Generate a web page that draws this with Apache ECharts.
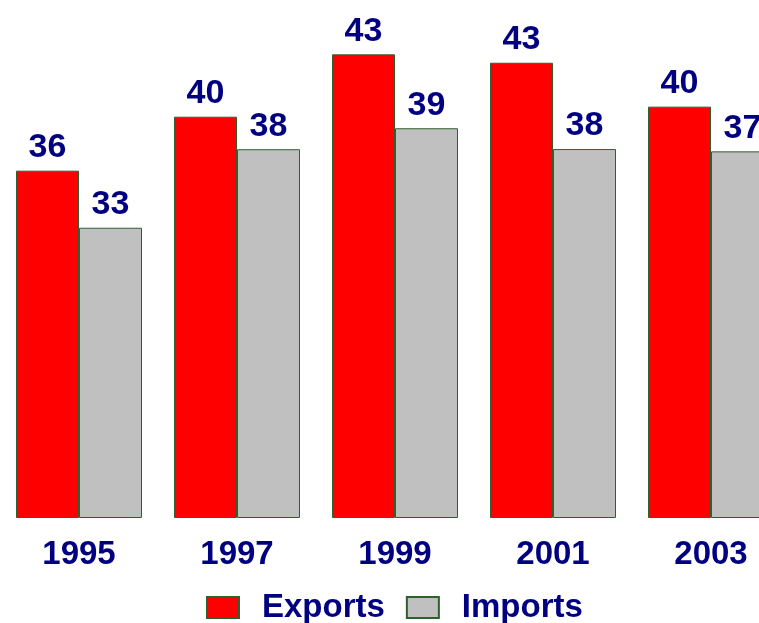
<!DOCTYPE html>
<html>
<head>
<meta charset="utf-8">
<script src="https://cdn.jsdelivr.net/npm/echarts@6/dist/echarts.min.js"></script>
<style>
html,body{margin:0;padding:0;background:#fff;overflow:hidden;width:759px;height:623px;}
#chart{width:790px;height:623px;}
</style>
</head>
<body>
<div id="chart"></div>
<script>
var categories = ['1995', '1997', '1999', '2001', '2003'];
var exportsValues = [36.27, 39.54, 43.32, 42.81, 40.15];
var importsValues = [32.81, 37.57, 38.84, 37.58, 37.44];
var seriesNames = ['Exports', 'Imports'];

var navy = '#000080';
var font = 'Liberation Sans, Arial, sans-serif';
var chart = echarts.init(document.getElementById('chart'), null, {renderer: 'canvas'});

function labelCfg() {
  return {
    show: true,
    position: 'top',
    distance: 6,
    color: navy,
    fontFamily: font,
    fontWeight: 'bold',
    fontSize: 34,
    formatter: function (p) { return Math.round(p.value); }
  };
}

chart.setOption({
  animation: false,
  backgroundColor: '#ffffff',
  grid: {left: 0, top: 6, right: 0, bottom: 105.5, containLabel: false},
  legend: {
    data: seriesNames,
    left: 201,
    top: 586,
    icon: 'rect',
    itemWidth: 32,
    itemHeight: 21,
    itemGap: 21,
    textStyle: {color: navy, fontFamily: font, fontWeight: 'bold', fontSize: 33, padding: [0, 0, 0, 18]}
  },
  xAxis: {
    type: 'category',
    data: categories,
    axisLine: {show: false},
    axisTick: {show: false},
    axisLabel: {color: navy, fontFamily: font, fontWeight: 'bold', fontSize: 33, margin: 21}
  },
  yAxis: {
    type: 'value',
    min: 15.25,
    max: 46.25,
    show: false,
    splitLine: {show: false}
  },
  series: [
    {
      name: seriesNames[0],
      type: 'bar',
      data: exportsValues,
      barGap: '0%',
      barCategoryGap: '20.25%',
      itemStyle: {color: '#FF0000', borderColor: '#2F5F2F', borderWidth: 1},
      label: labelCfg()
    },
    {
      name: seriesNames[1],
      type: 'bar',
      data: importsValues,
      barGap: '0%',
      barCategoryGap: '20.25%',
      itemStyle: {color: '#C0C0C0', borderColor: '#2F5F2F', borderWidth: 1},
      label: labelCfg()
    }
  ]
});
</script>
</body>
</html>
